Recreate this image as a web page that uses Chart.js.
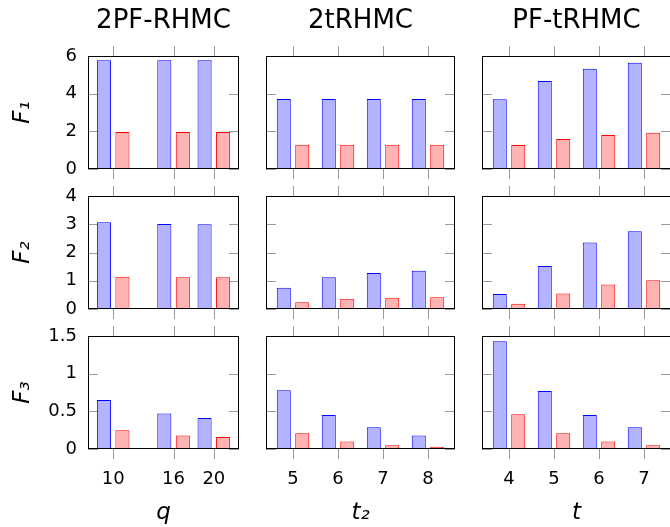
<!DOCTYPE html>
<html>
<head>
<meta charset="utf-8">
<script src="https://cdn.jsdelivr.net/npm/chart.js@4.4.1/dist/chart.umd.min.js"></script>
<style>
  html, body { margin: 0; padding: 0; background: #fff; overflow: hidden; }
  #wrap { position: relative; width: 670px; height: 527px; overflow: hidden; }
  #wrap canvas { position: absolute; }
</style>
</head>
<body>
<div id="wrap"></div>
<script>
// column headers and x axes
const methods = ["2PF-RHMC", "2tRHMC", "PF-tRHMC"];
const xTitles = ["q", "t₂", "t"];
const qValues = [10, 16, 20];
const t2Values = [5, 6, 7, 8];
const tValues = [4, 5, 6, 7];

// one inner array per column (2PF-RHMC, 2tRHMC, PF-tRHMC)
const f1Blue = [[5.77, 5.77, 5.77], [3.72, 3.72, 3.72, 3.72], [3.70, 4.67, 5.32, 5.64]];
const f1Red = [[1.97, 1.97, 1.97], [1.29, 1.29, 1.29, 1.29], [1.27, 1.59, 1.81, 1.92]];
const f2Blue = [[3.07, 3.01, 3.00], [0.75, 1.12, 1.27, 1.35], [0.53, 1.52, 2.35, 2.75]];
const f2Red = [[1.14, 1.12, 1.12], [0.24, 0.36, 0.40, 0.42], [0.19, 0.55, 0.87, 1.02]];
const f3Blue = [[0.65, 0.47, 0.41], [0.78, 0.45, 0.29, 0.18], [1.43, 0.77, 0.45, 0.29]];
const f3Red = [[0.25, 0.18, 0.16], [0.21, 0.10, 0.05, 0.03], [0.46, 0.21, 0.10, 0.05]];

const f1Ticks = [0, 2, 4, 6];
const f2Ticks = [0, 1, 2, 3, 4];
const f3Ticks = [0, 0.5, 1, 1.5];

const yTitles = ["F₁", "F₂", "F₃"];

Chart.defaults.font.family = "'DejaVu Sans', sans-serif";
Chart.defaults.color = "#000";

// layout of the 3x3 grid (canvas rects + padding so the plot frames line up)
const cols = [
  { left: 0, width: 252, padLeft: 0, padRight: 13, xMin: 7.5, xMax: 22.5, catPct: 0.92, cats: qValues },
  { left: 252, width: 216, padLeft: 14, padRight: 13, xMin: 4.4, xMax: 8.6, catPct: 0.82, cats: t2Values },
  { left: 468, width: 203, padLeft: 14, padRight: 0, xMin: 3.4, xMax: 7.6, catPct: 0.82, cats: tValues }
];
const rows = [
  { top: 0, height: 182, padTop: 0, padBottom: 13, blue: f1Blue, red: f1Red, ticks: f1Ticks },
  { top: 182, height: 140, padTop: 14, padBottom: 13, blue: f2Blue, red: f2Red, ticks: f2Ticks },
  { top: 322, height: 205, padTop: 14, padBottom: 0, blue: f3Blue, red: f3Red, ticks: f3Ticks }
];

// frame + pgfplots-like tick marks
const framePlugin = {
  id: "frame",
  beforeDatasetsDraw(chart) {
    const { ctx, chartArea: a, scales } = chart;
    const x = scales.x, y = scales.y;
    ctx.save();
    ctx.strokeStyle = "#9a9a9a";
    ctx.lineWidth = 1;
    ctx.beginPath();
    x.ticks.forEach(t => {
      const px = Math.round(x.getPixelForValue(t.value)) + 0.5;
      ctx.moveTo(px, a.top - 10);
      ctx.lineTo(px, a.top);
      ctx.moveTo(px, a.bottom);
      ctx.lineTo(px, a.bottom + 10);
    });
    y.ticks.forEach(t => {
      const py = Math.round(y.getPixelForValue(t.value)) + 0.5;
      ctx.moveTo(a.left, py);
      ctx.lineTo(a.left + 10, py);
      ctx.moveTo(a.right - 10, py);
      ctx.lineTo(a.right, py);
    });
    ctx.stroke();
    ctx.restore();
  },
  afterDatasetsDraw(chart) {
    const { ctx, chartArea: a } = chart;
    ctx.save();
    ctx.strokeStyle = "#000";
    ctx.lineWidth = 1;
    const l = Math.round(a.left) + 0.5, t = Math.round(a.top) + 0.5;
    const r = Math.round(a.right) - 0.5, b = Math.round(a.bottom) - 0.5;
    ctx.strokeRect(l, t, r - l, b - t);
    ctx.restore();
  }
};

const wrap = document.getElementById("wrap");

rows.forEach((row, ri) => {
  cols.forEach((col, ci) => {
    const canvas = document.createElement("canvas");
    canvas.width = col.width;
    canvas.height = row.height;
    canvas.style.left = col.left + "px";
    canvas.style.top = row.top + "px";
    wrap.appendChild(canvas);

    const isTop = ri === 0;
    const isBottom = ri === rows.length - 1;
    const isLeft = ci === 0;
    const cats = col.cats;

    new Chart(canvas, {
      type: "bar",
      data: {
        datasets: [
          {
            data: cats.map((c, i) => ({ x: c, y: row.blue[ci][i] })),
            backgroundColor: "#b3b3ff",
            borderColor: "#0000ff",
            borderWidth: 1
          },
          {
            data: cats.map((c, i) => ({ x: c, y: row.red[ci][i] })),
            backgroundColor: "#ffb3b3",
            borderColor: "#ff0000",
            borderWidth: 1
          }
        ]
      },
      options: {
        responsive: false,
        animation: false,
        devicePixelRatio: 1,
        categoryPercentage: col.catPct,
        barPercentage: 0.76,
        layout: {
          padding: { left: col.padLeft, right: col.padRight, top: row.padTop, bottom: row.padBottom }
        },
        plugins: {
          legend: { display: false },
          tooltip: { enabled: false },
          title: {
            display: isTop,
            text: methods[ci],
            fullSize: false,
            font: { size: 26, weight: "normal", lineHeight: 1.2 },
            color: "#000",
            padding: { top: 6, bottom: 18.8 }
          }
        },
        scales: {
          x: {
            type: "linear",
            min: col.xMin,
            max: col.xMax,
            offset: false,
            display: isBottom,
            afterBuildTicks: s => { s.ticks = cats.map(v => ({ value: v })); },
            grid: { display: false, drawTicks: false, offset: false },
            border: { display: false },
            ticks: { padding: 20, font: { size: 18 }, color: "#000", maxRotation: 0, autoSkip: false,
                     callback: v => String(v) },
            title: {
              display: true,
              text: xTitles[ci],
              font: { size: 23, style: "italic" },
              color: "#000",
              padding: 0
            },
            afterFit: s => {
              s.paddingLeft = 0;
              s.paddingRight = 0;
              if (isBottom) s.height = 78;
            }
          },
          y: {
            type: "linear",
            min: row.ticks[0],
            max: row.ticks[row.ticks.length - 1],
            display: isLeft,
            afterBuildTicks: s => { s.ticks = row.ticks.map(v => ({ value: v })); },
            grid: { display: false, drawTicks: false },
            border: { display: false },
            ticks: { padding: 11, font: { size: 18 }, color: "#000", autoSkip: false,
                     callback: v => String(v) },
            title: {
              display: true,
              text: yTitles[ri],
              font: { size: 23, style: "italic" },
              color: "#000",
              padding: { top: 9, bottom: 0 }
            },
            afterFit: s => {
              s.paddingTop = 0;
              s.paddingBottom = 0;
              if (isLeft) s.width = 88;
            }
          }
        }
      },
      plugins: [framePlugin]
    });
  });
});
</script>
</body>
</html>
